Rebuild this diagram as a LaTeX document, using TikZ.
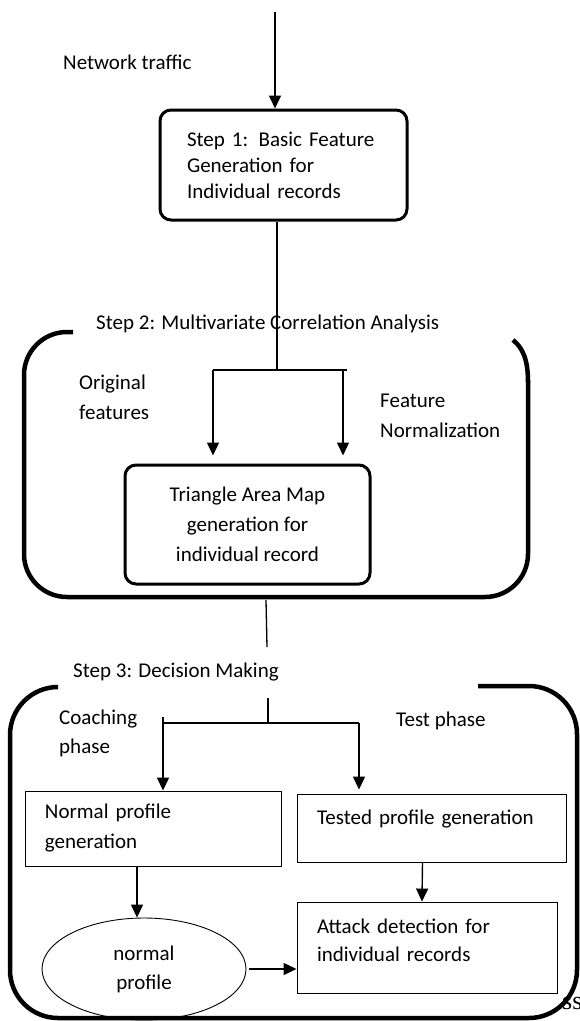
\documentclass[tikz,border=0pt]{standalone}
\usepackage{fontspec}
\setmainfont{Carlito}
\newfontfamily\serifff{Liberation Serif}
\usetikzlibrary{arrows.meta,shapes.geometric,calc}
\begin{document}
\begin{tikzpicture}[x=1pt,y=-1pt,
  font=\fontsize{21}{29}\selectfont,
  thickbox/.style={draw, line width=3pt, rounded corners=11pt, inner sep=0pt},
  thinbox/.style={draw, line width=0.9pt, inner sep=0pt},
  arr/.style={line width=1.4pt, -{Triangle[length=13pt,width=12pt]}},
  conn/.style={line width=1.3pt},
  bracket/.style={line width=4.5pt},
  lbl/.style={anchor=west, inner sep=0pt, align=left}]
\useasboundingbox (0,0) rectangle (580,1021);

% labels
\node[lbl] (net) at (63,62) {Network traffic};
\node[lbl] (s2lbl) at (96,324) {Step 2: Multivariate Correlation Analysis};
\node[lbl, font=\fontsize{21}{30}\selectfont] (orig) at (79,397) {Original\\features};
\node[lbl, font=\fontsize{21}{30}\selectfont] (fnorm) at (380,416) {Feature\\Normalization};
\node[lbl] (s3lbl) at (73,672) {Step 3: Decision Making};
\node[lbl] (coach) at (59,733.5) {Coaching\\phase};
\node[lbl] (testph) at (396,721) {Test phase};
\node[lbl, font=\serifff\fontsize{26}{26}\selectfont] (ss) at (562,1003) {ss};

% boxes
\node[thickbox, minimum width=247pt, minimum height=110pt, text width=193pt, align=left,
  font=\fontsize{21}{26}\selectfont] (s1) at (283.5,165)
  {Step 1: Basic Feature\\Generation for\\Individual records};
\node[thickbox, minimum width=245pt, minimum height=119pt, align=center,
  font=\fontsize{21}{30}\selectfont] (tam) at (247.5,524.5)
  {Triangle Area Map\\generation for\\individual record};
\node[thinbox, minimum width=256pt, minimum height=75pt, text width=216pt, align=left,
  font=\fontsize{21}{30}\selectfont] (normal) at (153,828.5)
  {Normal profile\\generation};
\node[thinbox, minimum width=269pt, minimum height=68pt, text width=229pt, align=left] (tested) at (431.5,828)
  {Tested profile generation\\[-7pt]\mbox{}};
\node[thinbox, minimum width=260pt, minimum height=91pt, text width=220pt, align=left,
  font=\fontsize{21}{28}\selectfont] (attack) at (427,947.5)
  {Attack detection for\\individual records\\[-13pt]\mbox{}};
\node[draw, ellipse, line width=0.9pt, inner sep=0pt, minimum width=204pt, minimum height=102pt,
  align=center] (ell) at (144,969) {normal\\profile};

% brackets
\draw[bracket, rounded corners=43pt] (73,332) -- (24,332) -- (24,597) -- (528,597) -- (528,380);
\draw[bracket] (528,382) .. controls (528,360) and (523,348) .. (513,340);
\draw[bracket, rounded corners=48pt] (55,687) -- (10,687) -- (10,1018) -- (577,1018) -- (577,686) -- (478,686);

% connectors
\coordinate (top) at (275,12);
\draw[arr] (top) -- (top |- s1.north);
\coordinate (j2) at (277,370);
\coordinate (b2l) at (213,370);
\coordinate (b2r) at (347,370);
\coordinate (b2r2) at (343,370);
\draw[conn] ([xshift=-6.5pt]s1.south) -- (j2);
\draw[conn] (b2l) -- (b2r);
\draw[arr, shorten >=8pt] (b2l) -- (b2l |- tam.north);
\draw[arr, shorten >=8pt] (b2r2) -- (b2r2 |- tam.north);

\coordinate (c1) at (266,600);
\coordinate (c2) at (267,647);
\coordinate (c3) at (268,698);
\coordinate (j3) at (268,723);
\draw[conn] (c1) -- (c2);
\draw[conn] (c3) -- (j3);
\coordinate (b3l) at (163,723);
\coordinate (b3r) at (359,723);
\coordinate (tick) at (163,717);
\draw[conn] (b3l) -- (b3r);
\draw[conn] (tick) -- (b3l);
\draw[arr] (b3l) -- (b3l |- normal.north);
\draw[arr, shorten >=4pt] (b3r) -- (b3r |- tested.north);

\draw[arr] ([xshift=-16pt]normal.south) -- ([xshift=-16pt]normal.south |- ell.north);
\draw[arr] ([xshift=3pt]ell.east) -- (ell.east -| attack.west);
\draw[arr] ([xshift=-9pt]tested.south) -- ([xshift=-5pt]attack.north);
\end{tikzpicture}
\end{document}
